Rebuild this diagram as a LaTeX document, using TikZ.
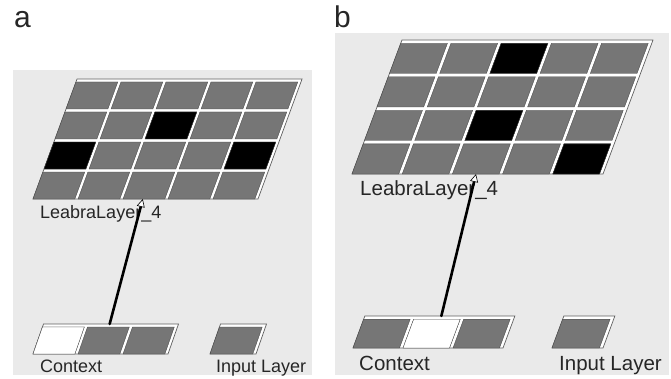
\documentclass[tikz,border=0pt]{standalone}
\usepackage{fontspec}
\setmainfont{Liberation Sans}
\usepackage{xcolor}
\usepackage{tikz}
\usetikzlibrary{arrows.meta,positioning}
\definecolor{panelbg}{RGB}{234,234,234}
\definecolor{unitgray}{RGB}{118,118,118}
\definecolor{framegray}{RGB}{95,95,95}
\tikzset{
	panel/.style = {fill=panelbg, draw=none},
	frame/.style = {fill=white, draw=framegray, line width=0.7pt},
	unit/.style = {fill=unitgray, draw=framegray!70!black, line width=0.3pt},
	active/.style = {fill=black},
	idle/.style = {fill=white},
	lbl/.style = {inner sep=0pt, anchor=base west, text=black!85},
	link/.style = {line width=2.6pt, line cap=round,
			-{Triangle[fill=white, line width=0.6pt, length=8pt, width=8pt]}},
}
% one layer: frame and all units (cols, rows)
\newcommand{\unitlayer}[2]{%
	\filldraw[frame] (0,0) rectangle (#1,#2);
	\foreach \i in {1,...,#1}
		\foreach \j in {1,...,#2}
			\filldraw[unit] (\i-1,\j-1) rectangle ++(0.93,0.9);
}
\begin{document}
\begin{tikzpicture}[x=1pt, y=1pt]
	\useasboundingbox (0,0) rectangle (671,378);

	% panel a
	\fill[panel] (13,3) rectangle (312,308);
	\node[lbl, font=\fontsize{30}{36}\selectfont] (pa) at (14,350) {a};

	\begin{scope}[shift={(33,179)}, x=45pt, y=30pt, xslant=0.367]
		\unitlayer{5}{4}
		\filldraw[unit, active] (2,2) rectangle ++(0.93,0.9) (0,1) rectangle ++(0.93,0.9) (4,1) rectangle ++(0.93,0.9);
		\coordinate (hidA) at (2.44,0);
	\end{scope}
	\node[lbl, font=\fontsize{18}{22}\selectfont] (hidlblA) at (40,160) {LeabraLayer\_4};

	\begin{scope}[shift={(33,24)}, x=45pt, y=30pt, xslant=0.35]
		\unitlayer{3}{1}
		\filldraw[unit, idle] (0,0) rectangle ++(0.93,0.9);
		\coordinate (ctxA) at (1.47,1);
	\end{scope}
	\begin{scope}[shift={(210,24)}, x=46pt, y=30pt, xslant=0.35]
		\unitlayer{1}{1}
	\end{scope}
	\node[lbl, font=\fontsize{18}{22}\selectfont] (ctxlblA) at (40,6) {Context};
	\node[lbl, font=\fontsize{18}{22}\selectfont] (inlblA) at (216,6) {Input Layer};

	\draw[link] (ctxA) -- (hidA);

	% panel b
	\fill[panel] (335,3) rectangle (669,345);
	\node[lbl, font=\fontsize{30}{36}\selectfont] (pb) at (334,350) {b};

	\begin{scope}[shift={(352,204)}, x=50.2pt, y=33.5pt, xslant=0.373]
		\unitlayer{5}{4}
		\filldraw[unit, active] (2,3) rectangle ++(0.93,0.9) (2,1) rectangle ++(0.93,0.9) (4,0) rectangle ++(0.93,0.9);
		\coordinate (hidB) at (2.47,0);
	\end{scope}
	\node[lbl, font=\fontsize{20.5}{24}\selectfont] (hidlblB) at (360,183) {LeabraLayer\_4};

	\begin{scope}[shift={(353,30)}, x=50pt, y=32pt, xslant=0.37]
		\unitlayer{3}{1}
		\filldraw[unit, idle] (1,0) rectangle ++(0.93,0.9);
		\coordinate (ctxB) at (1.53,1);
	\end{scope}
	\begin{scope}[shift={(552,30)}, x=51pt, y=32pt, xslant=0.37]
		\unitlayer{1}{1}
	\end{scope}
	\node[lbl, font=\fontsize{20.5}{24}\selectfont] (ctxlblB) at (359,8) {Context};
	\node[lbl, font=\fontsize{20.5}{24}\selectfont] (inlblB) at (559,8) {Input Layer};

	\draw[link] (ctxB) -- (hidB);
\end{tikzpicture}
\end{document}
